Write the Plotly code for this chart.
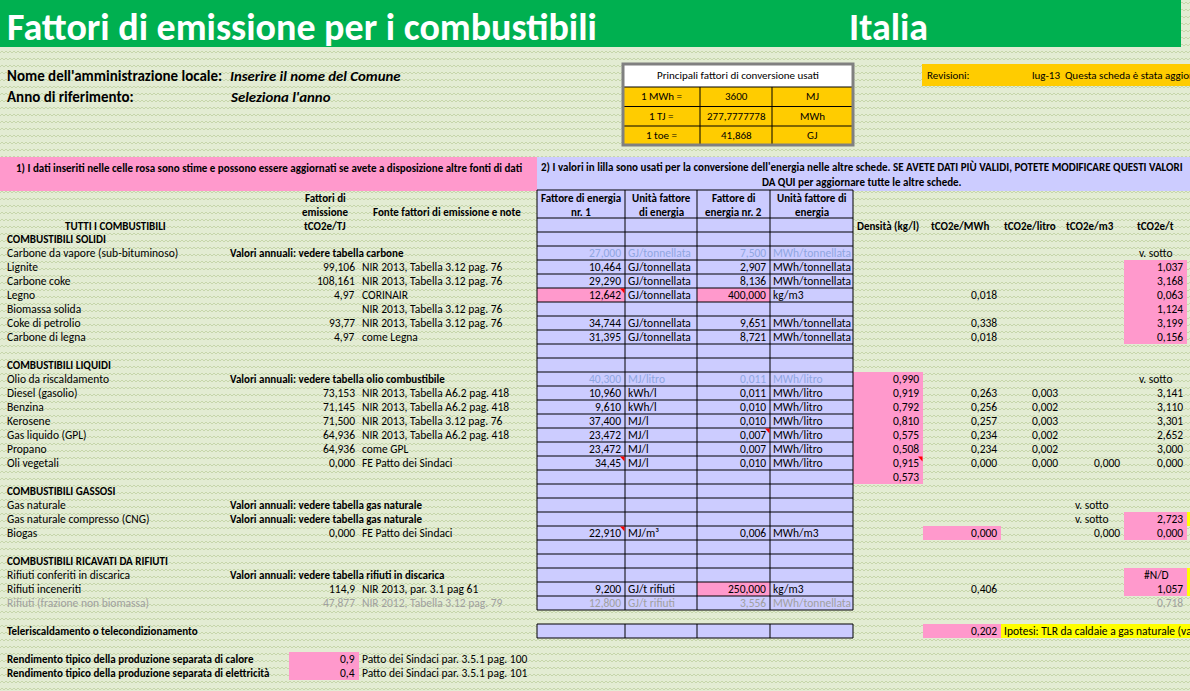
import base64
import plotly.graph_objects as go

titolo = "Fattori di emissione per i combustibili"
paese = "Italia"
etichette_intestazione = ["Nome dell'amministrazione locale:", "Anno di riferimento:"]
valori_intestazione = ["Inserire il nome del Comune", "Seleziona l'anno"]

conv_titolo = "Principali fattori di conversione usati"
conv_etichette = ["1 MWh =", "1 TJ =", "1 toe ="]
conv_valori = ["3600", "277,7777778", "41,868"]
conv_unita = ["MJ", "MWh", "GJ"]

revisioni = ["Revisioni:", "lug-13  Questa scheda è stata aggiornata"]

nota_rosa = ("1) I dati inseriti nelle celle rosa sono stime e possono essere aggiornati "
             "se avete a disposizione altre fonti di dati")
nota_lilla = ["2) I valori in lilla sono usati per la conversione dell'energia nelle altre schede. "
              "SE AVETE DATI PIÙ VALIDI, POTETE MODIFICARE QUESTI VALORI",
              "DA QUI per aggiornare tutte le altre schede."]

intest_sinistra = ["TUTTI I COMBUSTIBILI", ["Fattori di", "emissione", "tCO2e/TJ"],
                   "Fonte fattori di emissione e note"]
intest_lilla = [["Fattore di energia", "nr. 1"], ["Unità fattore", "di energia"],
                ["Fattore di", "energia nr. 2"], ["Unità fattore di", "energia"]]
intest_destra = ["Densità (kg/l)", "tCO2e/MWh", "tCO2e/litro", "tCO2e/m3", "tCO2e/t"]

# una voce per riga del foglio (32 righe a partire da COMBUSTIBILI SOLIDI)
combustibili = [
    "COMBUSTIBILI SOLIDI", "Carbone da vapore (sub-bituminoso)", "Lignite", "Carbone coke",
    "Legno", "Biomassa solida", "Coke di petrolio", "Carbone di legna", "",
    "COMBUSTIBILI LIQUIDI", "Olio da riscaldamento", "Diesel (gasolio)", "Benzina", "Kerosene",
    "Gas liquido (GPL)", "Propano", "Oli vegetali", "",
    "COMBUSTIBILI GASSOSI", "Gas naturale", "Gas naturale compresso (CNG)", "Biogas", "",
    "COMBUSTIBILI RICAVATI DA RIFIUTI", "Rifiuti conferiti in discarica", "Rifiuti inceneriti",
    "Rifiuti (frazione non biomassa)", "",
    "Teleriscaldamento o telecondizionamento", "",
    "Rendimento tipico della produzione separata di calore",
    "Rendimento tipico della produzione separata di elettricità",
]
fattori_tj = [
    "", "", "99,106", "108,161", "4,97", "", "93,77", "4,97", "",
    "", "", "73,153", "71,145", "71,500", "64,936", "64,936", "0,000", "",
    "", "", "", "0,000", "",
    "", "", "114,9", "47,877", "", "", "", "0,9", "0,4",
]
fonti = [
    "", "", "NIR 2013, Tabella 3.12 pag. 76", "NIR 2013, Tabella 3.12 pag. 76", "CORINAIR",
    "NIR 2013, Tabella 3.12 pag. 76", "NIR 2013, Tabella 3.12 pag. 76", "come Legna", "",
    "", "", "NIR 2013, Tabella A6.2 pag. 418", "NIR 2013, Tabella A6.2 pag. 418",
    "NIR 2013, Tabella 3.12 pag. 76", "NIR 2013, Tabella A6.2 pag. 418", "come GPL",
    "FE Patto dei Sindaci", "",
    "", "", "", "FE Patto dei Sindaci", "",
    "", "", "NIR 2013, par. 3.1 pag 61", "NIR 2012, Tabella 3.12 pag. 79", "", "", "",
    "Patto dei Sindaci par. 3.5.1 pag. 100", "Patto dei Sindaci par. 3.5.1 pag. 101",
]
valori_annuali = [
    "", "Valori annuali: vedere tabella carbone", "", "", "", "", "", "", "",
    "", "Valori annuali: vedere tabella olio combustibile", "", "", "", "", "", "", "",
    "", "Valori annuali: vedere tabella gas naturale", "Valori annuali: vedere tabella gas naturale",
    "", "",
    "", "Valori annuali: vedere tabella rifiuti in discarica", "", "", "", "", "", "", "",
]
energia_1 = [
    "", "27,000", "10,464", "29,290", "12,642", "", "34,744", "31,395", "",
    "", "40,300", "10,960", "9,610", "37,400", "23,472", "23,472", "34,45", "",
    "", "", "", "22,910", "",
    "", "", "9,200", "12,800", "", "", "", "", "",
]
unita_1 = [
    "", "GJ/tonnellata", "GJ/tonnellata", "GJ/tonnellata", "GJ/tonnellata", "", "GJ/tonnellata",
    "GJ/tonnellata", "",
    "", "MJ/litro", "kWh/l", "kWh/l", "MJ/l", "MJ/l", "MJ/l", "MJ/l", "",
    "", "", "", "MJ/m³", "",
    "", "", "GJ/t rifiuti", "GJ/t rifiuti", "", "", "", "", "",
]
energia_2 = [
    "", "7,500", "2,907", "8,136", "400,000", "", "9,651", "8,721", "",
    "", "0,011", "0,011", "0,010", "0,010", "0,007", "0,007", "0,010", "",
    "", "", "", "0,006", "",
    "", "", "250,000", "3,556", "", "", "", "", "",
]
unita_2 = [
    "", "MWh/tonnellata", "MWh/tonnellata", "MWh/tonnellata", "kg/m3", "", "MWh/tonnellata",
    "MWh/tonnellata", "",
    "", "MWh/litro", "MWh/litro", "MWh/litro", "MWh/litro", "MWh/litro", "MWh/litro",
    "MWh/litro", "",
    "", "", "", "MWh/m3", "",
    "", "", "kg/m3", "MWh/tonnellata", "", "", "", "", "",
]
densita = [
    "", "", "", "", "", "", "", "", "",
    "", "0,990", "0,919", "0,792", "0,810", "0,575", "0,508", "0,915", "0,573",
    "", "", "", "", "", "", "", "", "", "", "", "", "", "",
]
tco2_mwh = [
    "", "", "", "", "0,018", "", "0,338", "0,018", "",
    "", "", "0,263", "0,256", "0,257", "0,234", "0,234", "0,000", "",
    "", "", "", "0,000", "",
    "", "", "0,406", "", "", "0,202", "", "", "",
]
tco2_litro = [
    "", "", "", "", "", "", "", "", "",
    "", "", "0,003", "0,002", "0,003", "0,002", "0,002", "0,000", "",
    "", "", "", "", "", "", "", "", "", "", "", "", "", "",
]
tco2_m3 = [
    "", "", "", "", "", "", "", "", "",
    "", "", "", "", "", "", "", "0,000", "",
    "", "v. sotto", "v. sotto", "0,000", "",
    "", "", "", "", "", "", "", "", "",
]
tco2_t = [
    "", "v. sotto", "1,037", "3,168", "0,063", "1,124", "3,199", "0,156", "",
    "", "v. sotto", "3,141", "3,110", "3,301", "2,652", "3,000", "0,000", "",
    "", "", "2,723", "0,000", "",
    "", "#N/D", "1,057", "0,718", "", "", "", "", "",
]
ipotesi_tlr = "Ipotesi: TLR da caldaie a gas naturale (va"

# ---- impaginazione ----
W, H = 1190, 691
FONT = "Calibri, Carlito, Lato, sans-serif"
FS = 11.5     # testo normale delle celle
FB = 11       # testo in grassetto delle celle
FH = 11       # intestazioni e note
ROSA = "#FF99CC"
LILLA = "#CCCCFF"
ARANCIO = "#FFCC00"
GIALLO = "#FFFF00"
VERDE = "#00B050"
AZZURRO = "#8FA6DF"
GRIGIO = "#A0A0A0"

ROW0, RH = 232, 14
TAB = [537, 625, 697, 770, 853]
DX = [853, 923, 1001, 1062, 1124, 1187]

SEZIONI = [0, 9, 18, 23, 28, 30, 31]


def ytop(k):
    return ROW0 + RH * k


def ymid(k):
    return ROW0 + RH * k + RH / 2


shapes = []
annotations = []


def rect(x0, y0, x1, y1, fill, line=None, lw=1):
    shapes.append(dict(type="rect", xref="x", yref="y", x0=x0, y0=y0, x1=x1, y1=y1,
                       fillcolor=fill, line=dict(color=line or fill, width=lw if line else 0)))


def line(x0, y0, x1, y1, color="black", lw=1):
    shapes.append(dict(type="line", xref="x", yref="y", x0=x0, y0=y0, x1=x1, y1=y1,
                       line=dict(color=color, width=lw)))


def txt(x, y, s, anchor="left", bold=False, italic=False, color="black", size=None):
    if not s:
        return
    if size is None:
        size = FB if bold else FS
    if bold:
        s = "<b>" + s + "</b>"
    if italic:
        s = "<i>" + s + "</i>"
    annotations.append(dict(x=x, y=y, xref="x", yref="y", text=s, showarrow=False,
                            xanchor=anchor, yanchor="middle", borderpad=0,
                            font=dict(family=FONT, size=size, color=color)))


# titolo
rect(0, 0, 1181, 47, VERDE)
txt(6, 27, titolo, bold=True, color="white", size=38)
txt(848, 27, paese, bold=True, color="white", size=38)

# intestazione
for i in range(2):
    txt(6, 76 + 21 * i, etichette_intestazione[i], bold=True, size=15)
    txt(229, 76 + 21 * i, valori_intestazione[i], bold=True, italic=True, size=14.8)

# riquadro fattori di conversione
rect(623, 64, 853, 87, "white")
rect(623, 87, 853, 145, ARANCIO)
for yy in [87, 106.5, 126]:
    line(623, yy, 853, yy)
for xx in [700, 772]:
    line(xx, 87, xx, 145)
rect(623, 64, 853, 145, "rgba(0,0,0,0)", line="#808080", lw=3)
txt(738, 75.5, conv_titolo, anchor="center", size=FH)
for i in range(3):
    yy = 96.5 + 19.5 * i
    txt(661, yy, conv_etichette[i], anchor="center", size=FH)
    txt(736, yy, conv_valori[i], anchor="center", size=FH)
    txt(812, yy, conv_unita[i], anchor="center", size=FH)

# revisioni
rect(922, 64, 1190, 86, ARANCIO)
txt(926, 75, revisioni[0], size=FH)
txt(1031, 75, revisioni[1], size=FH)

# note colorate
rect(0, 157, 537, 191, ROSA)
rect(537, 157, 1190, 191, LILLA)
txt(269, 168, nota_rosa, anchor="center", bold=True, size=FH)
txt(862, 167, nota_lilla[0], anchor="center", bold=True, size=FH)
txt(862, 182, nota_lilla[1], anchor="center", bold=True, size=FH)

# intestazioni colonne
txt(115, 226, intest_sinistra[0], anchor="center", bold=True, size=FH)
for i, s in enumerate(intest_sinistra[1]):
    txt(325, 198 + 14 * i, s, anchor="center", bold=True, size=FH)
txt(372, 212, intest_sinistra[2], bold=True, size=FH)
for c in range(4):
    xc = (TAB[c] + TAB[c + 1]) / 2
    for i, s in enumerate(intest_lilla[c]):
        txt(xc, 198 + 14 * i, s, anchor="center", bold=True, size=FH)
for c, s in enumerate(intest_destra):
    xc = [888, 960, 1030, 1090, 1155][c]
    txt(xc, 226, s, anchor="center", bold=True, size=FH)

# tabella lilla
NR = 27
rect(TAB[0], 190, TAB[-1], ytop(NR), LILLA)
rect(TAB[0], ytop(28), TAB[-1], ytop(29), LILLA)
for k, c in [(4, 0), (4, 2), (25, 2)]:
    rect(TAB[c], ytop(k), TAB[c + 1], ytop(k + 1), ROSA)

# celle rosa a destra
rect(DX[0], ytop(10), DX[1], ytop(18), ROSA)
for k0, k1 in [(2, 8), (20, 22), (24, 26)]:
    rect(DX[4], ytop(k0), DX[5], ytop(k1), ROSA)
for k in [21, 28]:
    rect(DX[1], ytop(k), DX[2], ytop(k + 1), ROSA)
rect(DX[2], ytop(28), 1190, ytop(29), GIALLO)
for k0, k1 in [(20, 21), (24, 26)]:
    rect(DX[5], ytop(k0), 1190, ytop(k1), GIALLO)
rect(289, ytop(30), 359, ytop(32), ROSA)

# griglia tabella lilla
for yy in [190, 218] + [ytop(k) for k in range(NR + 1)]:
    line(TAB[0], yy, TAB[-1], yy)
for xx in TAB:
    line(xx, 190, xx, ytop(NR))
for yy in [ytop(28), ytop(29)]:
    line(TAB[0], yy, TAB[-1], yy)
for xx in TAB:
    line(xx, ytop(28), xx, ytop(29))

# indicatori di commento
for xx, k in [(TAB[1], 4), (TAB[3], 14), (TAB[1], 16), (DX[1], 16), (TAB[1], 21)]:
    y0 = ytop(k) + 0.5
    shapes.append(dict(type="path", xref="x", yref="y",
                       path=f"M{xx - 5},{y0} L{xx - 0.5},{y0} L{xx - 0.5},{y0 + 5} Z",
                       fillcolor="red", line=dict(width=0)))

# righe
for k in range(len(combustibili)):
    y = ymid(k)
    col = GRIGIO if k == 26 else "black"
    col_lilla = AZZURRO if k in (1, 10) else col
    txt(6, y, combustibili[k], bold=k in SEZIONI, color=col)
    txt(229, y, valori_annuali[k], bold=True)
    txt(356, y, fattori_tj[k], anchor="right", color=col)
    txt(361, y, fonti[k], color=col)
    txt(TAB[1] - 3, y, energia_1[k], anchor="right", color=col_lilla)
    txt(TAB[1] + 2, y, unita_1[k], color=col_lilla)
    txt(TAB[3] - 3, y, energia_2[k], anchor="right", color=col_lilla)
    txt(TAB[3] + 2, y, unita_2[k], color=col_lilla)
    txt(DX[1] - 3, y, densita[k], anchor="right")
    txt(DX[2] - 3, y, tco2_mwh[k], anchor="right")
    txt(DX[3] - 3, y, tco2_litro[k], anchor="right")
    for vals, xr, xc in [(tco2_m3, DX[4], 1092), (tco2_t, DX[5], 1156)]:
        v = vals[k]
        if v in ("v. sotto", "#N/D"):
            txt(xc, y, v, anchor="center")
        else:
            txt(xr - 3, y, v, anchor="right", color=col)
txt(DX[2] + 2, ymid(28), ipotesi_tlr)

# sfondo a onde come il foglio
svg = (f'<svg xmlns="http://www.w3.org/2000/svg" width="{W}" height="{H}">'
       '<defs><pattern id="p" width="8" height="7" patternUnits="userSpaceOnUse">'
       '<path d="M0 4 L2 2 L4 4 L6 2 L8 4" fill="none" stroke="#BFD0A0" stroke-width="0.8"/>'
       '</pattern></defs><rect width="100%" height="100%" fill="#E3ECD3"/>'
       '<rect width="100%" height="100%" fill="url(#p)"/></svg>')
bg = "data:image/svg+xml;base64," + base64.b64encode(svg.encode()).decode()

fig = go.Figure()
fig.add_trace(go.Scatter(x=[0, W], y=[0, H], mode="markers", marker=dict(opacity=0),
                         hoverinfo="skip", showlegend=False))
fig.update_layout(
    width=W, height=H, margin=dict(l=0, r=0, t=0, b=0),
    paper_bgcolor="#E3ECD3", plot_bgcolor="rgba(0,0,0,0)",
    xaxis=dict(range=[0, W], visible=False, fixedrange=True),
    yaxis=dict(range=[H, 0], visible=False, fixedrange=True),
    shapes=shapes, annotations=annotations,
    images=[dict(source=bg, xref="paper", yref="paper", x=0, y=1, sizex=1, sizey=1,
                 sizing="stretch", layer="below", xanchor="left", yanchor="top")],
    showlegend=False,
)
# il foglio parte dall'angolo della pagina: niente margine del body
fig.write_html("out.html", config=dict(displayModeBar=False),
               post_script="document.body.style.margin='0px';")
